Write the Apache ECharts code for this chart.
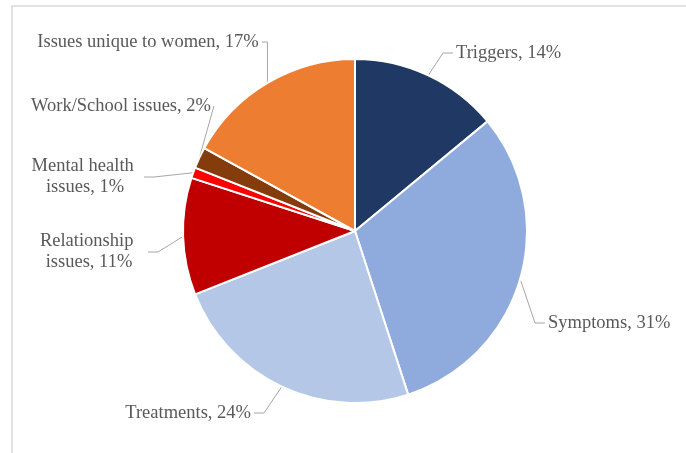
<!DOCTYPE html>
<html>
<head>
<meta charset="utf-8">
<script src="https://cdn.jsdelivr.net/npm/echarts@6/dist/echarts.min.js"></script>
<style>
html,body{margin:0;padding:0;background:#fff;}
#chart{width:686px;height:453px;}
</style>
</head>
<body>
<div id="chart"></div>
<script>
// ---- data ----
const categories = ["Triggers", "Symptoms", "Treatments", "Relationship issues", "Mental health issues", "Work/School issues", "Issues unique to women"];
const percentValues = [14, 31, 24, 11, 1, 2, 17];
const sliceColors = ["#1F3864", "#8FAADC", "#B4C7E7", "#C00000", "#FF0000", "#843C0C", "#ED7D31"];

// ---- label layout (positions of text blocks, not data) ----
const labelLayoutCfg = [
  {x: 453, y: 53,  align: 'left'},
  {x: 545, y: 323, align: 'left'},
  {x: 254, y: 413, align: 'right'},
  {x: 89,  y: 252, align: 'center', wrap: true},
  {x: 85,  y: 177, align: 'center', wrap: true},
  {x: 121, y: 106, align: 'center'},
  {x: 148, y: 42,  align: 'center'}
];

const chart = echarts.init(document.getElementById('chart'), null, {renderer: 'canvas'});

const pieData = categories.map((name, i) => {
  const item = {name: name, value: percentValues[i], itemStyle: {color: sliceColors[i]}};
  if (labelLayoutCfg[i].wrap) {
    item.label = {width: 112, overflow: 'break'};
  }
  return item;
});

const option = {
  animation: false,
  backgroundColor: '#ffffff',
  graphic: [{
    type: 'rect',
    shape: {x: 12, y: 6, width: 720, height: 500},
    style: {fill: 'none', stroke: '#d9d9d9', lineWidth: 1.5},
    silent: true,
    z: -10
  }],
  series: [{
    type: 'pie',
    center: [355, 231],
    radius: [0, 172],
    startAngle: 90,
    clockwise: true,
    avoidLabelOverlap: false,
    itemStyle: {borderColor: '#ffffff', borderWidth: 2},
    label: {
      show: true,
      position: 'outside',
      formatter: '{b}, {c}%',
      fontFamily: "'Liberation Serif', 'Times New Roman', serif",
      fontSize: 18.5,
      lineHeight: 21,
      color: '#595959',
      padding: [0, 3]
    },
    labelLine: {
      show: true,
      length: 10,
      length2: 10,
      smooth: false,
      lineStyle: {color: '#a6a6a6', width: 1}
    },
    labelLayout: function (params) {
      const c = labelLayoutCfg[params.dataIndex];
      return {x: c.x, y: c.y, align: c.align, verticalAlign: 'middle'};
    },
    emphasis: {disabled: true},
    data: pieData
  }]
};

chart.setOption(option);
</script>
</body>
</html>
